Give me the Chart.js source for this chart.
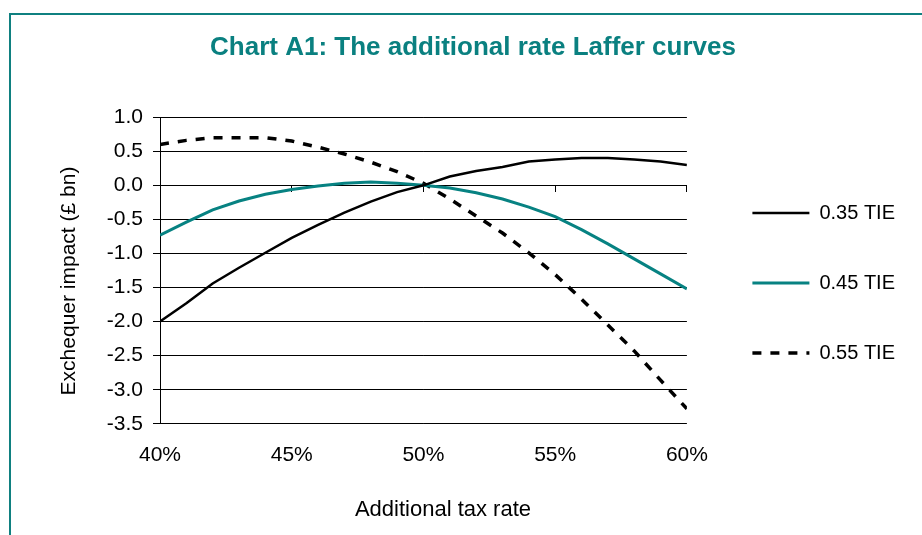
<!DOCTYPE html>
<html>
<head>
<meta charset="utf-8">
<script src="https://cdn.jsdelivr.net/npm/chart.js@4/dist/chart.umd.min.js"></script>
<style>
  html, body { margin: 0; padding: 0; background: #fff; overflow: hidden; }
  #wrap { position: relative; width: 922px; height: 535px; }
  #frame { position: absolute; left: 9px; top: 13px; width: 1000px; height: 600px;
           border-left: 2px solid #0f8080; border-top: 2px solid #0f8080; }
  canvas { position: absolute; left: 0; top: 0; }
</style>
</head>
<body>
<div id="wrap"><div id="frame"></div><canvas id="c" width="922" height="535"></canvas></div>
<script>
// ---- Data ----
const chartTitle = 'Chart A1: The additional rate Laffer curves';
const xTitle = 'Additional tax rate';
const yTitle = 'Exchequer impact (£ bn)';
const seriesLabels = ['0.35 TIE', '0.45 TIE', '0.55 TIE'];
const rates = [40, 41, 42, 43, 44, 45, 46, 47, 48, 49, 50, 51, 52, 53, 54, 55, 56, 57, 58, 59, 60];
const tie035 = [-2.00, -1.73, -1.44, -1.21, -0.99, -0.77, -0.58, -0.40, -0.24, -0.10, 0.00, 0.13, 0.21, 0.27, 0.35, 0.38, 0.40, 0.40, 0.38, 0.35, 0.30];
const tie045 = [-0.73, -0.54, -0.36, -0.23, -0.13, -0.06, -0.01, 0.03, 0.05, 0.03, 0.00, -0.04, -0.11, -0.20, -0.32, -0.46, -0.65, -0.86, -1.08, -1.30, -1.52];
const tie055 = [0.60, 0.66, 0.70, 0.70, 0.70, 0.65, 0.56, 0.46, 0.34, 0.20, 0.03, -0.20, -0.45, -0.70, -0.99, -1.31, -1.67, -2.05, -2.43, -2.86, -3.28];
const xTicksStep = 5;
const yMin = -3.5, yMax = 1.0, yStep = 0.5;

const FONT = '"Liberation Sans", Arial, sans-serif';
Chart.defaults.font.family = FONT;
Chart.defaults.color = '#000';

const toPoints = (vals) => rates.map((r, i) => ({ x: r, y: vals[i] }));

const axisTitles = {
  id: 'axisTitles',
  afterDraw(chart) {
    const { ctx, chartArea: a } = chart;
    ctx.save();
    ctx.fillStyle = '#000';
    ctx.textAlign = 'center';
    ctx.textBaseline = 'middle';
    ctx.font = '22px ' + FONT;
    ctx.fillText(xTitle, (a.left + a.right) / 2 + 19.5, a.bottom + 86);
    ctx.translate(69, (a.top + a.bottom) / 2 + 10.5);
    ctx.rotate(-Math.PI / 2);
    ctx.font = '21px ' + FONT;
    ctx.fillText(yTitle, 0, 0);
    ctx.restore();
  }
};

const legendNudge = {
  id: 'legendNudge',
  afterLayout(chart) {
    const l = chart.legend;
    if (!l) return;
    l.left += 15.5; l.right += 15.5;
    l.top += 39.5; l.bottom += 39.5;
  }
};

new Chart(document.getElementById('c'), {
  type: 'line',
  data: {
    datasets: [
      { label: seriesLabels[0], data: toPoints(tie035), borderColor: '#000000', backgroundColor: '#000000',
        borderWidth: 2.5, pointRadius: 0, tension: 0, fill: false },
      { label: seriesLabels[1], data: toPoints(tie045), borderColor: '#078282', backgroundColor: '#078282',
        borderWidth: 3, pointRadius: 0, tension: 0, fill: false },
      { label: seriesLabels[2], data: toPoints(tie055), borderColor: '#000000', backgroundColor: '#000000',
        borderWidth: 3.5, borderDash: [9, 9], pointRadius: 0, tension: 0, fill: false }
    ]
  },
  options: {
    responsive: false,
    animation: false,
    devicePixelRatio: 1,
    events: [],
    layout: { padding: { left: 56.5, right: 32.5, top: 0, bottom: 48 } },
    plugins: {
      title: {
        display: true, text: chartTitle, color: '#0a8080',
        font: { size: 26, weight: 'bold', family: FONT },
        padding: { top: 32, bottom: 54 }
      },
      legend: {
        position: 'right',
        labels: {
          usePointStyle: true, pointStyle: 'line', pointStyleWidth: 57,
          padding: 50, color: '#000', font: { size: 20, family: FONT },
          generateLabels(chart) {
            const items = Chart.defaults.plugins.legend.labels.generateLabels(chart);
            items.forEach(it => {
              const ds = chart.data.datasets[it.datasetIndex];
              it.lineWidth = ds.borderWidth;
              it.lineDash = ds.borderDash || [];
              it.strokeStyle = ds.borderColor;
              it.rotation = 180;
              it.lineCap = 'butt';
            });
            return items;
          }
        }
      },
      tooltip: { enabled: false }
    },
    scales: {
      x: {
        type: 'linear', position: 'bottom', min: rates[0], max: rates[rates.length - 1],
        ticks: { stepSize: xTicksStep, padding: 19, color: '#000', font: { size: 21 },
                 maxRotation: 0, autoSkip: false, callback: v => v + '%' },
        grid: { display: false, drawTicks: false },
        border: { display: false }
      },
      x0: {
        type: 'linear', position: { y: 0 }, min: rates[0], max: rates[rates.length - 1],
        ticks: { display: false, stepSize: xTicksStep },
        grid: { drawOnChartArea: false, drawTicks: true, tickLength: 7, color: '#000' },
        border: { display: false }
      },
      y: {
        min: yMin, max: yMax,
        afterFit(s) { s.width = 103.5; },
        ticks: { stepSize: yStep, padding: 10, color: '#000', font: { size: 21 },
                 callback: v => Number(v).toFixed(1) },
        grid: { color: '#000', lineWidth: 1, tickLength: 7 },
        border: { display: true, color: '#000', width: 1 }
      }
    }
  },
  plugins: [axisTitles, legendNudge]
});
</script>
</body>
</html>
